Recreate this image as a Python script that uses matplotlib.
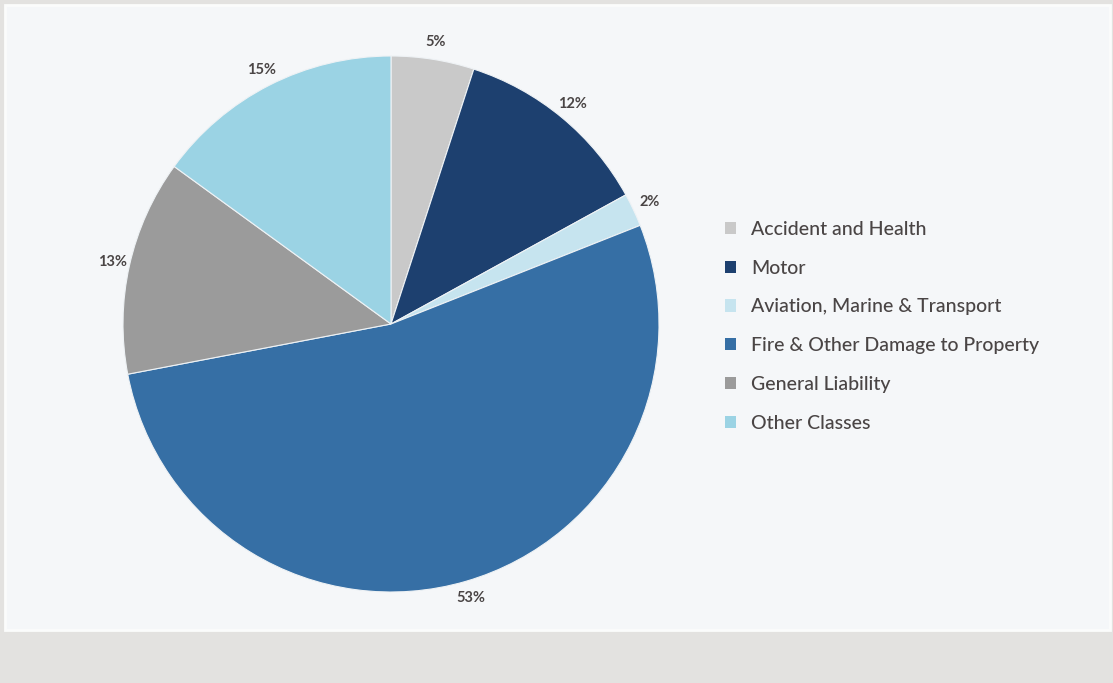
import matplotlib.pyplot as plt
from matplotlib.patches import Rectangle, Patch

plt.rcParams["font.family"] = ["Lato", "DejaVu Sans"]

# premium share by class of business
classes = ["Accident and Health", "Motor", "Aviation, Marine & Transport",
           "Fire & Other Damage to Property", "General Liability", "Other Classes"]
shares = [5, 12, 2, 53, 13, 15]
colors = ["#c9c9c9", "#1d406f", "#c6e4ef", "#366fa5", "#9b9b9b", "#9bd3e4"]

text_color = "#4a4545"

fig = plt.figure(figsize=(11.13, 6.83), dpi=100)
fig.patch.set_facecolor("#e3e2e0")

# light panel behind the chart
W, H = 1113, 683
panel = Rectangle((5 / W, 1 - 630 / H), 1105 / W, 625 / H, transform=fig.transFigure,
                  facecolor="#f5f7f9", edgecolor="#fbfcfc", linewidth=2, zorder=-5)
fig.patches.append(panel)

ax = fig.add_axes([123 / W, 1 - 592 / H, 536 / W, 536 / H])
wedges, _, autotexts = ax.pie(
    shares, colors=colors, startangle=90, counterclock=False,
    autopct=lambda p: f"{round(p)}%", pctdistance=1.065, radius=1,
    wedgeprops=dict(edgecolor="#eef2f5", linewidth=0.8),
    textprops=dict(color=text_color, fontsize=10.5, fontweight="bold"),
)
ax.set_xlim(-1, 1)
ax.set_ylim(-1, 1)
ax.set_aspect("equal")
ax.axis("off")

handles = [Patch(facecolor=c, edgecolor="none") for c in colors]
fig.legend(handles, classes, loc="upper left", bbox_to_anchor=(717 / W, 1 - 213 / H),
           frameon=False, labelcolor=text_color,
           prop=dict(size=14, weight="medium"),
           handlelength=0.6, handleheight=0.6, handletextpad=0.75,
           labelspacing=1.12, borderaxespad=0)

fig.savefig("out.png", dpi=100, facecolor=fig.get_facecolor())
